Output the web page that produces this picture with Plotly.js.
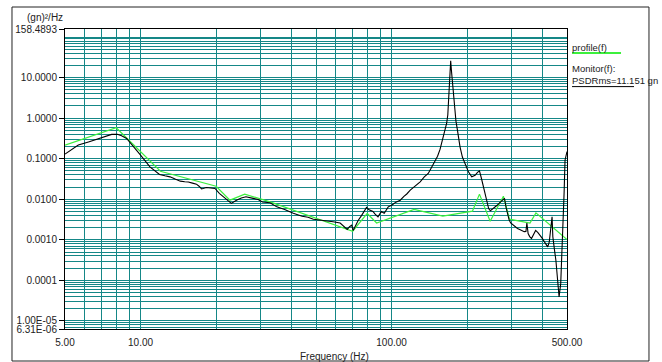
<!DOCTYPE html>
<html>
<head>
<meta charset="utf-8">
<script src="https://cdn.plot.ly/plotly-3.0.1.min.js"></script>
<style>html,body{margin:0;padding:0;background:#fff;}#chart{width:662px;height:362px;}</style>
</head>
<body>
<div id="chart"></div>
<script>
// ---- data ----
const monitorFreq = [5.0,5.3,5.65,6.2,6.69,7.2,7.67,8.08,8.4,8.8,9.4,10.0,10.9,11.9,12.5,13.1,13.8,14.4,15.0,15.5,16.1,16.7,17.1,17.5,18.3,19.0,19.8,20.6,21.7,22.3,23.0,24.1,25.2,26.3,27.2,28.1,29.4,30.6,32.8,34.9,37.5,40.6,44.0,46.5,48.8,51.5,55.1,58.5,62.4,64.5,66.6,68.0,69.4,70.3,72.0,73.6,76.0,77.5,79.5,81.0,84.3,86.0,88.3,91.0,93.5,97.0,100.5,104.0,108.3,112.0,115.0,118.7,122.0,126.0,130.0,135.0,140.0,143.0,146.0,149.0,152.5,156.0,159.0,161.3,163.5,165.7,167.5,168.6,169.8,171.0,172.0,173.2,174.6,176.0,178.0,180.5,183.0,187.4,191.5,196.3,202.4,208.7,212.0,215.2,220.0,224.0,228.0,232.5,238.0,243.7,247.5,251.4,257.0,263.4,270.0,275.8,281.8,286.0,290.7,294.0,298.2,305.0,311.0,317.5,324.0,330.0,337.6,343.0,346.0,350.0,355.0,361.0,368.0,375.0,383.0,391.0,398.0,406.5,412.0,419.0,425.0,430.0,436.0,439.0,442.0,446.0,451.5,458.0,465.0,472.0,477.0,482.0,487.0,491.0,496.0,500.0];
const monitorPSD  = [0.13,0.17,0.217,0.26,0.30,0.35,0.398,0.40,0.37,0.317,0.2,0.123,0.063,0.041,0.038,0.0357,0.031,0.028,0.027,0.0266,0.025,0.0236,0.021,0.018,0.0195,0.0192,0.0185,0.014,0.0105,0.0092,0.0079,0.0095,0.0108,0.0115,0.0108,0.0105,0.0099,0.0086,0.0082,0.0065,0.0056,0.0045,0.0038,0.0036,0.0032,0.0031,0.0029,0.0028,0.0026,0.0022,0.0018,0.0021,0.0023,0.0017,0.0024,0.003,0.004,0.0048,0.0063,0.0056,0.005,0.0043,0.0037,0.005,0.0045,0.0065,0.0072,0.0085,0.0095,0.0118,0.0135,0.0168,0.0195,0.0235,0.0269,0.0357,0.0434,0.055,0.068,0.085,0.115,0.17,0.26,0.35,0.5,0.74,1.2,2.3,8.7,18.0,26.0,15.0,8.7,3.2,1.58,0.85,0.51,0.197,0.11,0.0766,0.0475,0.0357,0.037,0.039,0.046,0.050,0.033,0.0202,0.0095,0.0059,0.0052,0.0056,0.0063,0.0071,0.0083,0.0095,0.0105,0.0062,0.0037,0.0031,0.0026,0.0023,0.0021,0.0019,0.0018,0.0017,0.00159,0.0016,0.0026,0.00143,0.0012,0.00108,0.0014,0.0017,0.0015,0.0013,0.0011,0.00089,0.00078,0.00067,0.00089,0.0016,0.0037,0.0012,0.00075,0.00055,0.000313,0.00012,3.9e-5,8.3e-5,0.0004,0.0021,0.015,0.092,0.12,0.15];

const profileFreq = [5,8,12,20,22.7,26,32.8,70,80,87.2,123,160,210,224,247,279,295,356,376,500];
const profilePSD  = [0.217,0.58,0.049,0.021,0.0095,0.0134,0.0086,0.00163,0.00446,0.0026,0.0056,0.00383,0.00508,0.0134,0.00288,0.0119,0.00323,0.0026,0.00461,0.00102];

const xTickVals = [5,10,100,500];
const xTickText = ['5.00','10.00','100.00','500.00'];
const yTickVals = [158.4893,10,1,0.1,0.01,0.001,0.0001,1e-5,6.31e-6];
const yTickText = ['158.4893','10.0000','1.0000','0.1000','0.0100','0.0010','0.0001','1.00E-05','6.31E-06'];

const seriesNames = ['profile(f)','Monitor(f):'];
const rmsText = 'PSDRms=11.151 gn';

// ---- grid line positions (axis styling) ----
function decadeGrid(lo, hi) {
  const out = [];
  for (let e = -7; e <= 3; e++) {
    for (let k = 1; k <= 9; k++) {
      const v = k * Math.pow(10, e);
      if (v >= lo * 0.9999 && v <= hi * 1.0001) out.push(v);
    }
  }
  return out;
}
const xMinor = decadeGrid(5, 500);
const yMinor = decadeGrid(6.31e-6, 158.4893);

const gridCol = '#158787';
const font = {family: 'Liberation Sans, Arial, sans-serif', size: 10, color: '#222'};
const legFont = {family: 'Liberation Sans, Arial, sans-serif', size: 9.5, color: '#222'};

const traces = [
  {x: profileFreq, y: profilePSD, type: 'scatter', mode: 'lines', name: seriesNames[0],
   line: {color: '#3cf03c', width: 1.2}, hoverinfo: 'skip'},
  {x: monitorFreq, y: monitorPSD, type: 'scatter', mode: 'lines', name: seriesNames[1],
   line: {color: '#000000', width: 1.1}, hoverinfo: 'skip'}
];

const layout = {
  width: 662, height: 362,
  margin: {l: 65, r: 95, t: 29, b: 33, pad: 0},
  paper_bgcolor: '#fff', plot_bgcolor: '#fff',
  showlegend: false,
  font: font,
  xaxis: {
    type: 'log', range: [Math.log10(5), Math.log10(500)],
    tickmode: 'array', tickvals: xTickVals, ticktext: xTickText,
    ticks: '', ticklabelstandoff: 4, showline: true, linecolor: '#000', linewidth: 1, mirror: true,
    showgrid: true, gridcolor: gridCol, gridwidth: 1, zeroline: false,
    minor: {tickmode: 'array', tickvals: xMinor, showgrid: true, gridcolor: gridCol, gridwidth: 1, ticks: ''},
    tickfont: font, fixedrange: true
  },
  yaxis: {
    type: 'log', range: [Math.log10(6.31e-6), Math.log10(158.4893)],
    tickmode: 'array', tickvals: yTickVals, ticktext: yTickText,
    ticks: 'outside', ticklen: 5, tickcolor: '#000', tickwidth: 1,
    showline: true, linecolor: '#000', linewidth: 1, mirror: true,
    showgrid: true, gridcolor: gridCol, gridwidth: 1, zeroline: false,
    minor: {tickmode: 'array', tickvals: yMinor, showgrid: true, gridcolor: gridCol, gridwidth: 1, ticks: ''},
    tickfont: font, fixedrange: true
  },
  annotations: [
    {text: '(gn)²/Hz', xref: 'paper', yref: 'paper', x: 0, y: 1.037, xanchor: 'right', yanchor: 'middle', showarrow: false, font: font},
    {text: 'Frequency (Hz)', xref: 'paper', yref: 'paper', x: 0.536, y: -0.09, xanchor: 'center', yanchor: 'middle', showarrow: false, font: font},
    {text: seriesNames[0], xref: 'paper', yref: 'paper', x: 1.008, y: 0.94, xanchor: 'left', yanchor: 'middle', showarrow: false, font: legFont, borderpad: 0},
    {text: seriesNames[1], xref: 'paper', yref: 'paper', x: 1.008, y: 0.867, xanchor: 'left', yanchor: 'middle', showarrow: false, font: legFont, borderpad: 0},
    {text: rmsText, xref: 'paper', yref: 'paper', x: 1.008, y: 0.827, xanchor: 'left', yanchor: 'middle', showarrow: false, font: legFont, borderpad: 0}
  ],
  shapes: [
    {type: 'line', xref: 'paper', yref: 'paper', x0: 1.01, x1: 1.1076, y0: 0.92, y1: 0.92, line: {color: '#3cf03c', width: 2}},
    {type: 'line', xref: 'paper', yref: 'paper', x0: 1.01, x1: 1.1335, y0: 0.808, y1: 0.808, line: {color: '#000', width: 1}},
    {type: 'rect', xref: 'paper', yref: 'paper', x0: -0.1056, x1: 1.1633, y0: -0.1067, y1: 1.0733, line: {color: '#222', width: 1}}
  ]
};

Plotly.newPlot('chart', traces, layout, {displayModeBar: false, staticPlot: true});
</script>
</body>
</html>
